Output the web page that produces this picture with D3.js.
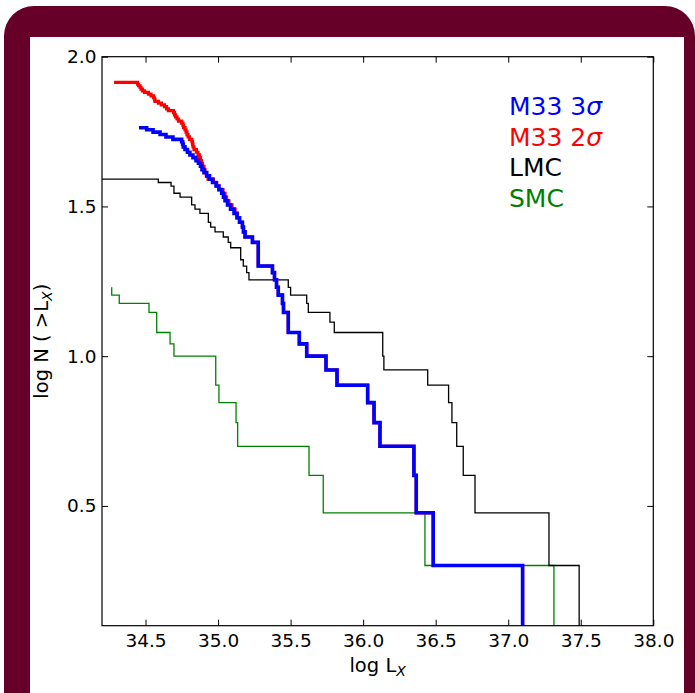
<!DOCTYPE html>
<html><head><meta charset="utf-8">
<script src="https://cdn.jsdelivr.net/npm/d3@7/dist/d3.min.js"></script>
<style>
body{margin:0;background:#fff}
svg{display:block}
text{font-family:"DejaVu Sans",sans-serif}
</style>
</head><body>
<svg id="chart" width="695" height="693"></svg>
<script>
// ---------- data ----------
const xTicks = [34.5, 35.0, 35.5, 36.0, 36.5, 37.0, 37.5, 38.0];
const yTicks = [0.5, 1.0, 1.5, 2.0];
const xDomain = [34.2, 38.0];
const yDomain = [0.1, 2.0];

const seriesNames = ["M33 3σ", "M33 2σ", "LMC", "SMC"];

// log L_X where each step starts (curve steps after each point)
const m33s3LogL = [34.455,34.508,34.552,34.600,34.641,34.689,34.749,34.756,34.760,34.772,
  34.789,34.806,34.827,34.848,34.865,34.879,34.889,34.903,34.922,34.941,
  34.962,34.986,35.006,35.025,35.037,35.048,35.065,35.086,35.110,35.130,
  35.148,35.168,35.175,35.186,35.237,35.277,35.375,35.389,35.403,35.415,
  35.444,35.451,35.484,35.560,35.611,35.744,35.820,36.031,36.075,36.116,
  36.350,36.366,36.483,37.099];
const m33s3LogN = [1.763,1.756,1.748,1.740,1.732,1.724,1.716,1.708,1.699,1.690,
  1.681,1.672,1.663,1.653,1.644,1.634,1.623,1.613,1.602,1.591,
  1.580,1.568,1.556,1.544,1.531,1.519,1.505,1.491,1.477,1.462,
  1.447,1.431,1.415,1.398,1.380,1.301,1.279,1.255,1.230,1.204,
  1.176,1.146,1.079,1.041,1.000,0.954,0.903,0.845,0.778,0.699,
  0.602,0.477,0.301,0.0];

const m33s2LogL = [34.283,34.445,34.452,34.462,34.469,34.479,34.493,34.520,34.538,34.555,
  34.562,34.565,34.589,34.610,34.631,34.645,34.658,34.693,34.700,34.707,
  34.717,34.727,34.749,34.758,34.762,34.772,34.779,34.786,34.793,34.803,
  34.820,34.824,34.827,34.834,34.851,34.862,34.872,34.879,34.886,34.893,
  34.903,34.910,34.920,34.931,34.968,34.991,35.006,35.034,35.048,35.059,
  35.075,35.096,35.117,35.134,
  35.148,35.168,35.175,35.186,35.237,35.277,35.375,35.389,35.403,35.415,
  35.444,35.451,35.484,35.560,35.611,35.744,35.820,36.031,36.075,36.116,
  36.350,36.366,36.483,37.099];
const m33s2LogN = [1.914,1.908,1.903,1.898,1.892,1.886,1.881,1.875,1.869,1.863,
  1.857,1.851,1.845,1.839,1.833,1.826,1.820,1.813,1.806,1.799,
  1.792,1.785,1.778,1.771,1.763,1.756,1.748,1.740,1.732,1.724,
  1.716,1.708,1.699,1.690,1.681,1.672,1.663,1.653,1.644,1.634,
  1.623,1.613,1.602,1.591,1.580,1.568,1.556,1.544,1.531,1.519,
  1.505,1.491,1.477,1.462,
  1.447,1.431,1.415,1.398,1.380,1.301,1.279,1.255,1.230,1.204,
  1.176,1.146,1.079,1.041,1.000,0.954,0.903,0.845,0.778,0.699,
  0.602,0.477,0.301,0.0];

const lmcLogL = [34.10,34.588,34.676,34.696,34.738,34.818,34.841,34.875,34.933,34.949,
  34.979,35.036,35.070,35.087,35.156,35.174,35.197,35.213,35.484,35.500,
  35.611,35.622,35.771,35.801,36.135,36.143,36.445,36.589,36.612,36.645,
  36.690,36.771,37.281,37.489];
const lmcLogN = [1.591,1.580,1.568,1.544,1.531,1.505,1.491,1.477,1.447,1.431,
  1.415,1.398,1.380,1.362,1.322,1.301,1.279,1.255,1.230,1.204,
  1.176,1.146,1.114,1.079,1.000,0.954,0.903,0.845,0.778,0.699,
  0.602,0.477,0.301,0.0];

const smcLogL = [34.267,34.267,34.319,34.524,34.577,34.669,34.696,34.984,35.006,35.124,
  35.135,35.627,35.725,36.426,37.315];
const smcLogN = [1.230,1.204,1.176,1.146,1.079,1.041,1.000,0.903,0.845,0.778,
  0.699,0.602,0.477,0.301,0.0];

// ---------- layout / style ----------
const W = 695, H = 693;
const plot = {left: 102, right: 653.3, top: 56.7, bottom: 625.7};
const maroon = "#660029";

const svg = d3.select("#chart");

// frame
svg.append("rect").attr("x", 4).attr("y", 6).attr("width", 691).attr("height", 760)
  .attr("rx", 30).attr("ry", 30).attr("fill", maroon);
svg.append("rect").attr("x", 30).attr("y", 37).attr("width", 654).attr("height", 700)
  .attr("fill", "#fff");

const x = d3.scaleLinear().domain(xDomain).range([plot.left, plot.right]);
const y = d3.scaleLinear().domain(yDomain).range([plot.bottom, plot.top]);

svg.append("defs").append("clipPath").attr("id", "clip")
  .append("rect").attr("x", plot.left).attr("y", plot.top)
  .attr("width", plot.right - plot.left).attr("height", plot.bottom - plot.top);

const line = d3.line().x(d => x(d[0])).y(d => y(d[1])).curve(d3.curveStepAfter);
const zip = (a, b) => a.map((v, i) => [v, b[i]]);

const series = [
  {L: smcLogL, N: smcLogN, color: "#008000", w: 1.3},
  {L: lmcLogL, N: lmcLogN, color: "#000000", w: 1.3},
  {L: m33s2LogL, N: m33s2LogN, color: "#ff0000", w: 3.2},
  {L: m33s3LogL, N: m33s3LogN, color: "#0000ff", w: 3.6}
];
const g = svg.append("g").attr("clip-path", "url(#clip)");
series.forEach(s => {
  g.append("path").attr("d", line(zip(s.L, s.N)))
    .attr("fill", "none").attr("stroke", s.color).attr("stroke-width", s.w)
    .attr("stroke-linejoin", "miter");
});

// axes
const fs = 18.5;
const fmt = d3.format(".1f");
function styleAxis(sel) {
  sel.select(".domain").remove();
  sel.selectAll(".tick line").attr("stroke", "#000").attr("stroke-width", 1);
  sel.selectAll(".tick text").attr("font-size", fs).attr("fill", "#000")
    .attr("font-family", "DejaVu Sans");
}
svg.append("g").attr("transform", `translate(0,${plot.bottom})`)
  .call(d3.axisBottom(x).tickValues(xTicks).tickSizeInner(-6).tickSizeOuter(0).tickPadding(8.5).tickFormat(fmt))
  .call(styleAxis);
svg.append("g").attr("transform", `translate(0,${plot.top})`)
  .call(d3.axisTop(x).tickValues(xTicks).tickSizeInner(-6).tickSizeOuter(0).tickFormat(""))
  .call(styleAxis);
svg.append("g").attr("transform", `translate(${plot.left},0)`)
  .call(d3.axisLeft(y).tickValues(yTicks).tickSizeInner(-6).tickSizeOuter(0).tickPadding(5.5).tickFormat(fmt))
  .call(styleAxis);
svg.append("g").attr("transform", `translate(${plot.right},0)`)
  .call(d3.axisRight(y).tickValues(yTicks).tickSizeInner(-6).tickSizeOuter(0).tickFormat(""))
  .call(styleAxis);

svg.append("rect").attr("x", plot.left).attr("y", plot.top)
  .attr("width", plot.right - plot.left).attr("height", plot.bottom - plot.top)
  .attr("fill", "none").attr("stroke", "#000").attr("stroke-width", 1.2);

// axis labels
const xl = svg.append("text").attr("x", (plot.left + plot.right) / 2).attr("y", 672)
  .attr("text-anchor", "middle").attr("font-size", 19.5).attr("fill", "#000");
xl.append("tspan").text("log L");
xl.append("tspan").attr("font-style", "italic").attr("font-size", 14).attr("dy", 4).text("X");

const yl = svg.append("text")
  .attr("transform", `translate(48,${(plot.top + plot.bottom) / 2}) rotate(-90)`)
  .attr("text-anchor", "middle").attr("font-size", 19.5).attr("fill", "#000");
yl.append("tspan").text("log N ( >L");
yl.append("tspan").attr("font-style", "italic").attr("font-size", 14).attr("dy", 4).text("X");
yl.append("tspan").attr("dy", -4).text(")");

// legend text
const legColors = ["#0000ff", "#ff0000", "#000000", "#008000"];
seriesNames.forEach((name, i) => {
  const t = svg.append("text").attr("x", 509).attr("y", 115 + i * 30.5)
    .attr("font-size", 25).attr("fill", legColors[i]);
  if (name.endsWith("σ")) {
    t.append("tspan").text(name.slice(0, -1));
    t.append("tspan").attr("font-style", "italic").text("σ");
  } else {
    t.text(name);
  }
});
</script>
</body></html>
